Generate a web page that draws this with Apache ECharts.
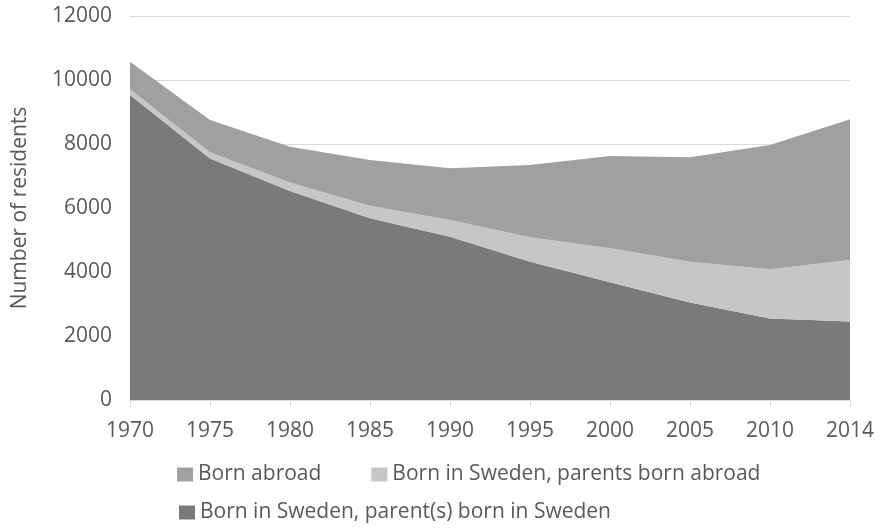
<!DOCTYPE html>
<html><head><meta charset="utf-8">
<script src="https://cdn.jsdelivr.net/npm/echarts@6/dist/echarts.min.js"></script>
<style>html,body{margin:0;padding:0;background:#fff}#c{width:878px;height:529px}</style>
</head><body><div id="c"></div>
<script>
const years = ['1970','1975','1980','1985','1990','1995','2000','2005','2010','2014'];
const bornSwedenParentsSweden = [9530, 7550, 6530, 5680, 5100, 4320, 3680, 3050, 2550, 2450];
const bornSwedenParentsAbroad = [180, 190, 270, 390, 525, 763, 1060, 1273, 1533, 1925];
const bornAbroad = [860, 1010, 1117, 1430, 1615, 2257, 2885, 3260, 3887, 4395];
const yTicks = [0, 2000, 4000, 6000, 8000, 10000, 12000];
const names = ['Born abroad', 'Born in Sweden, parents born abroad', 'Born in Sweden, parent(s) born in Sweden'];
const font = 'Open Sans';
const txt = '#595959';
const fs = 21;
const chart = echarts.init(document.getElementById('c'));
function area(name, data, color) {
  return {name, type:'line', stack:'t', data, symbol:'none', showSymbol:false,
    lineStyle:{width:0}, areaStyle:{color, opacity:1}, itemStyle:{color}};
}
const legendBase = {itemWidth:16, itemHeight:14, itemGap:50, icon:'rect', padding:0,
  textStyle:{color:txt, fontSize:fs, fontFamily:font}};
chart.setOption({
  animation:false,
  textStyle:{fontFamily:font},
  grid:{left:130, right:28, top:16, bottom:129, containLabel:false, outerBoundsMode:'none'},
  xAxis:{type:'category', data:years, boundaryGap:false,
    axisLine:{lineStyle:{color:'#d9d9d9', width:1}},
    axisTick:{show:true, length:7, lineStyle:{color:'#d9d9d9'}},
    axisLabel:{color:txt, fontSize:fs, fontFamily:font, margin:21},
    splitLine:{show:false}},
  yAxis:{type:'value', min:yTicks[0], max:yTicks[yTicks.length-1], interval:2000,
    name:'Number of residents', nameLocation:'middle', nameGap:99, nameRotate:90,
    nameTextStyle:{color:txt, fontSize:fs, fontFamily:font},
    axisLine:{show:false}, axisTick:{show:false},
    axisLabel:{color:txt, fontSize:fs, fontFamily:font, margin:18, formatter:v => String(v)},
    splitLine:{lineStyle:{color:'#d9d9d9', width:1}}},
  legend:[
    Object.assign({}, legendBase, {data:[names[0], names[1]], left:177, top:464}),
    Object.assign({}, legendBase, {data:[names[2]], left:179, top:502})
  ],
  series:[
    area(names[2], bornSwedenParentsSweden, '#7a7a7a'),
    area(names[1], bornSwedenParentsAbroad, '#c5c7c6'),
    area(names[0], bornAbroad, '#a0a0a0')
  ]
});
</script></body></html>
